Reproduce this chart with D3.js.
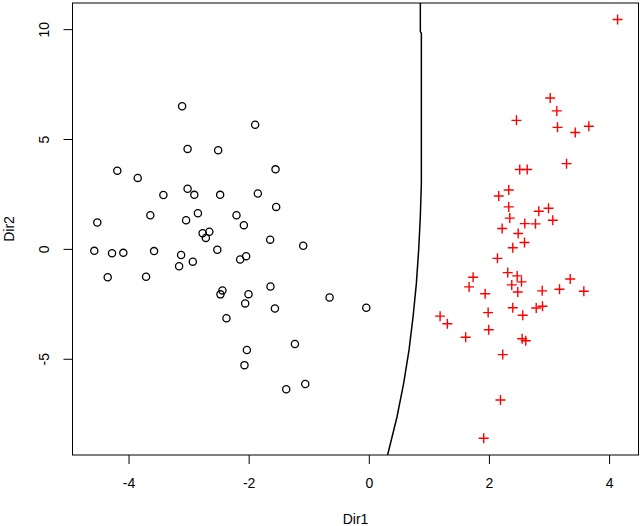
<!DOCTYPE html>
<html>
<head>
<meta charset="utf-8">
<script src="https://cdn.jsdelivr.net/npm/d3@7"></script>
<style>
  body { margin: 0; background: #fff; }
  text { font-family: "Liberation Sans", Arial, Helvetica, sans-serif; }
</style>
</head>
<body>
<div id="chart"></div>
<script>
// Group 1 (black circles), Dir1 / Dir2 scores.
let group1X = [-3.108, -3.017, -2.508, -4.187, -3.847, -3.017, -2.905, -3.420, -2.475, -2.845,
               -3.637, -3.042, -4.520, -2.767, -2.655, -2.713, -2.522, -4.570, -4.275, -4.087,
               -3.575, -3.125, -2.930, -3.158, -4.347, -3.708, -1.892, -1.553, -1.847, -1.542,
               -2.203, -2.080, -1.642, -1.092, -2.142, -2.042, -1.637, -2.437, -2.470, -2.003,
               -2.058, -1.563, -0.653, -0.042, -2.370, -2.030, -1.230, -2.070, -1.375, -1.058];
let group1Y = [6.49, 4.55, 4.49, 3.56, 3.23, 2.74, 2.46, 2.45, 2.46, 1.62,
               1.53, 1.30, 1.20, 0.71, 0.78, 0.50, -0.04, -0.09, -0.20, -0.18,
               -0.10, -0.28, -0.58, -0.79, -1.29, -1.27, 5.65, 3.62, 2.52, 1.91,
               1.53, 1.08, 0.42, 0.14, -0.48, -0.33, -1.71, -1.89, -2.07, -2.06,
               -2.48, -2.71, -2.21, -2.68, -3.16, -4.60, -4.33, -5.29, -6.39, -6.15];

// Group 2 (red crosses).
let group2X = [4.142, 3.020, 3.130, 2.458, 3.142, 3.437, 3.663, 3.292, 2.513, 2.637,
               2.330, 2.163, 2.330, 2.830, 2.992, 2.347, 3.063, 2.220, 2.597, 2.775,
               2.487, 2.592, 2.397, 2.142, 2.313, 1.737, 2.470, 2.542, 2.380, 1.670,
               1.937, 2.480, 2.887, 3.175, 3.353, 3.580, 2.397, 2.787, 2.892, 2.563,
               1.987, 1.187, 1.308, 1.997, 1.613, 2.553, 2.613, 2.230, 2.192, 1.913];
let group2Y = [10.44, 6.87, 6.28, 5.85, 5.53, 5.30, 5.58, 3.88, 3.61, 3.61,
               2.68, 2.41, 1.91, 1.71, 1.85, 1.40, 1.30, 0.93, 1.15, 1.14,
               0.70, 0.29, 0.05, -0.43, -1.08, -1.29, -1.23, -1.50, -1.64, -1.73,
               -2.04, -1.96, -1.91, -1.84, -1.37, -1.93, -2.68, -2.69, -2.61, -3.02,
               -2.90, -3.06, -3.41, -3.68, -4.02, -4.09, -4.18, -4.81, -6.88, -8.62];

// Decision boundary between the groups.
let boundaryX = [0.858, 0.858, 0.875, 0.875, 0.858, 0.830, 0.792, 0.737, 0.670, 0.580, 0.470, 0.313];
let boundaryY = [11.19, 9.89, 9.81, 2.99, 1.47, -0.05, -1.57, -3.09, -4.60, -6.12, -7.64, -9.38];

// Ticks.
let xTicks = [-4, -2, 0, 2, 4];
let yTicks = [-5, 0, 5, 10];

// Plot region.
let margin = {top: 3, right: 1.5, bottom: 71, left: 72.5},
    width = 640 - margin.left - margin.right,
    height = 526 - margin.top - margin.bottom;

let svg = d3.select("#chart")
            .append("svg")
            .attr("width", 640)
            .attr("height", 526)
            .append("g")
            .attr("transform", "translate(" + margin.left + "," + margin.top + ")");

let x = d3.scaleLinear().domain([-4.933, 4.49]).range([0, width]);
let y = d3.scaleLinear().domain([-9.38, 11.19]).range([height, 0]);

// Clip for the boundary line.
svg.append("clipPath").attr("id", "plotClip")
   .append("rect").attr("width", width).attr("height", height);

// X axis.
let xAxis = svg.append("g")
   .attr("transform", "translate(0," + height + ")")
   .call(d3.axisBottom(x).tickValues(xTicks).tickSize(9).tickFormat(d3.format("d")));
xAxis.select(".domain").remove();
xAxis.selectAll("line").attr("stroke", "#000").attr("stroke-width", 1);
xAxis.selectAll("text")
     .attr("y", 28).attr("dy", "0.35em")
     .attr("fill", "#000")
     .style("font-size", "14px")
     .style("font-family", "'Liberation Sans', Arial, sans-serif")
     .text(function(d) { return d < 0 ? "-" + Math.abs(d) : d; });

// Y axis.
let yAxis = svg.append("g")
   .call(d3.axisLeft(y).tickValues(yTicks).tickSize(9));
yAxis.select(".domain").remove();
yAxis.selectAll("line").attr("stroke", "#000").attr("stroke-width", 1);
yAxis.selectAll("text")
     .attr("x", 0).attr("dy", "0.35em")
     .attr("transform", "translate(-28.5,0) rotate(-90)")
     .attr("text-anchor", "middle")
     .attr("fill", "#000")
     .style("font-size", "14px")
     .style("font-family", "'Liberation Sans', Arial, sans-serif")
     .text(function(d) { return d < 0 ? "-" + Math.abs(d) : d; });

// Boundary curve.
let boundary = boundaryX.map(function(d, i) { return {x: d, y: boundaryY[i]}; });
svg.append("path")
   .datum(boundary)
   .attr("clip-path", "url(#plotClip)")
   .attr("fill", "none")
   .attr("stroke", "#000")
   .attr("stroke-width", 1.5)
   .attr("d", d3.line()
        .x(function(d) { return x(d.x); })
        .y(function(d) { return y(d.y); }));

// Group 1 points.
svg.append("g")
   .selectAll("circle")
   .data(group1X.map(function(d, i) { return {x: d, y: group1Y[i]}; }))
   .enter()
   .append("circle")
   .attr("cx", function(d) { return x(d.x); })
   .attr("cy", function(d) { return y(d.y); })
   .attr("r", 3.6)
   .attr("fill", "none")
   .attr("stroke", "#000")
   .attr("stroke-width", 1.3);

// Group 2 points.
let cross = 5;
svg.append("g")
   .selectAll("path")
   .data(group2X.map(function(d, i) { return {x: d, y: group2Y[i]}; }))
   .enter()
   .append("path")
   .attr("d", function(d) {
       let cx = x(d.x), cy = y(d.y);
       return "M" + (cx - cross) + "," + cy + "H" + (cx + cross) +
              "M" + cx + "," + (cy - cross) + "V" + (cy + cross);
   })
   .attr("fill", "none")
   .attr("stroke", "#ff0000")
   .attr("stroke-width", 1.4);

// Frame.
svg.append("rect")
   .attr("width", width)
   .attr("height", height)
   .attr("fill", "none")
   .attr("stroke", "#000")
   .attr("stroke-width", 1);

// Axis titles.
svg.append("text")
   .attr("x", width / 2)
   .attr("y", height + 69)
   .attr("text-anchor", "middle")
   .style("font-size", "14px")
   .text("Dir1");

svg.append("text")
   .attr("transform", "translate(" + (-59) + "," + (height / 2) + ") rotate(-90)")
   .attr("text-anchor", "middle")
   .style("font-size", "14px")
   .text("Dir2");
</script>
</body>
</html>
